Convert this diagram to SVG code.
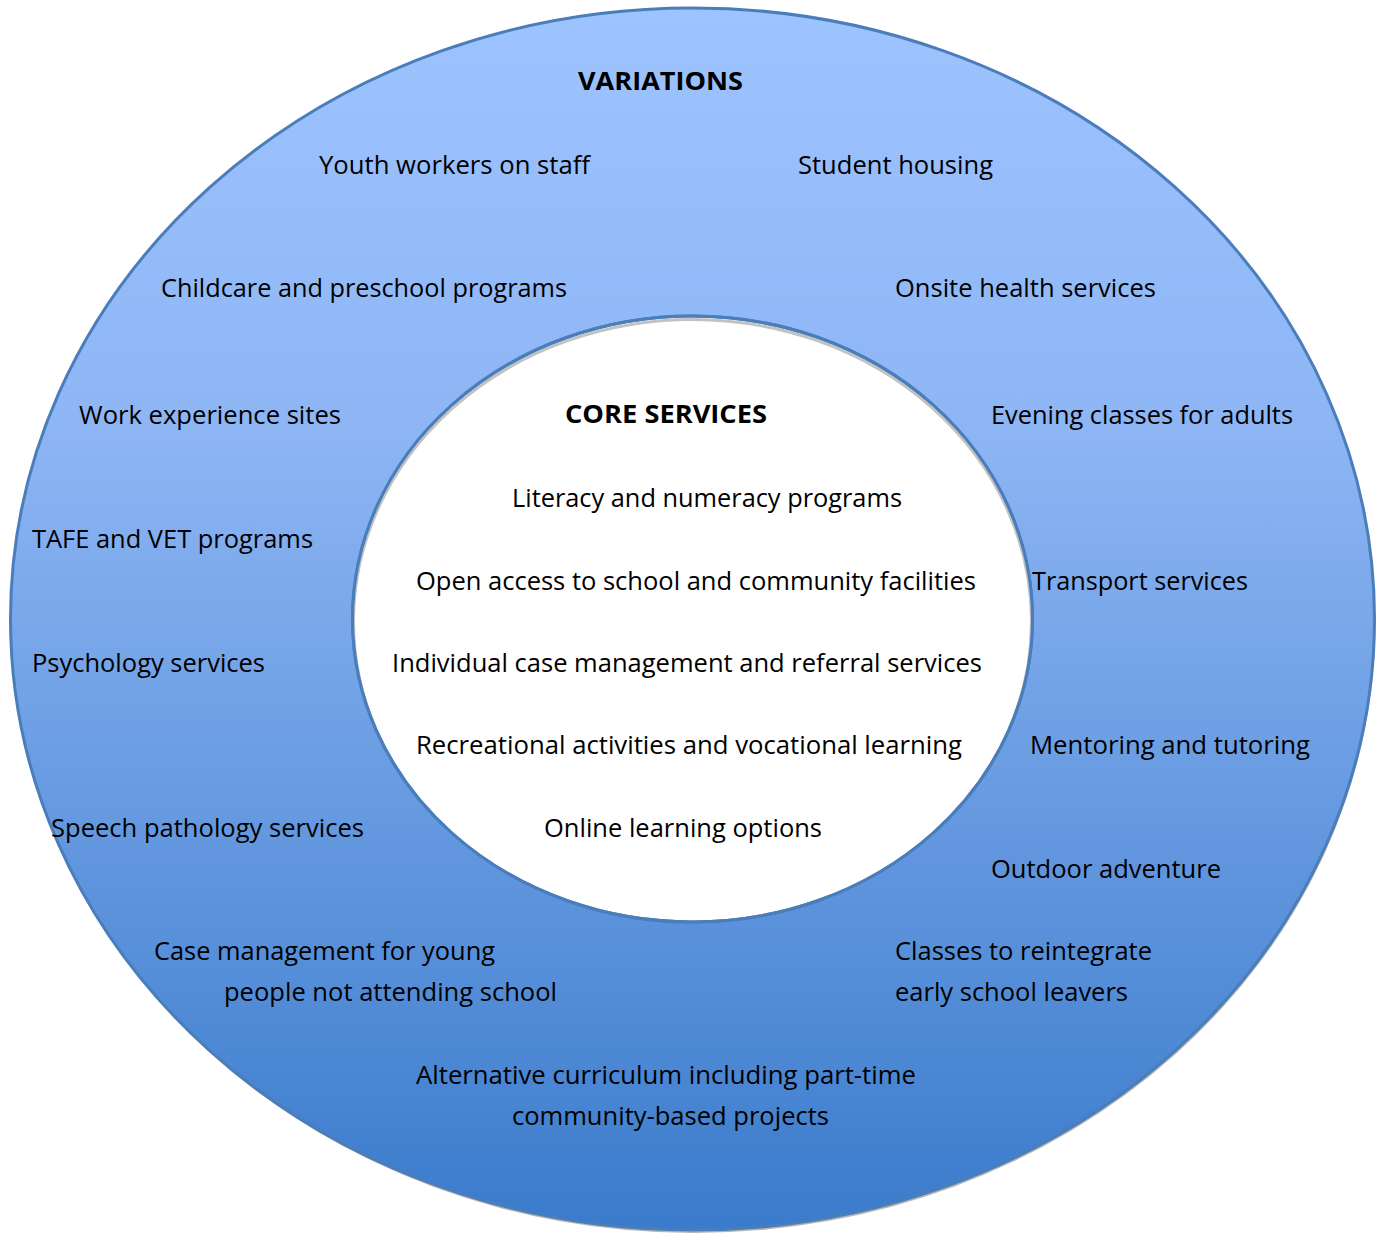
<svg xmlns="http://www.w3.org/2000/svg" width="1382" height="1233" viewBox="0 0 1382 1233">
<defs>
<linearGradient id="blue" x1="0" y1="0" x2="0" y2="1">
<stop offset="0" stop-color="#9EC4FF"/>
<stop offset="0.35" stop-color="#8DB5F4"/>
<stop offset="1" stop-color="#3A7BCB"/>
</linearGradient>
<clipPath id="innerClip"><ellipse cx="692.5" cy="619" rx="339" ry="302"/></clipPath>
</defs>
<style>
text{font-family:"Open Sans","DejaVu Sans",sans-serif;font-size:25px;fill:#000;}
.b{font-weight:bold;}
.ring{stroke:#4A7EBB;stroke-width:3;}
</style>
<rect width="1382" height="1233" fill="#fff"/>
<g id="outer">
<ellipse cx="693.5" cy="622" rx="682" ry="611" fill="#b5b5b5"/>
<ellipse class="ring" cx="692.5" cy="619" rx="682" ry="611" fill="url(#blue)"/>
</g>
<g id="inner">
<ellipse class="ring" cx="692.5" cy="619" rx="340" ry="303" fill="#fff"/>
<ellipse cx="692.5" cy="621.5" rx="339" ry="302" fill="none" stroke="#c2c2c2" stroke-width="3" clip-path="url(#innerClip)"/>
<ellipse cx="692.5" cy="619" rx="340" ry="303" fill="none" class="ring"/>
</g>
<g id="connectors"/>
<g id="variations">
<text class="b" x="578" y="90" textLength="165" lengthAdjust="spacingAndGlyphs">VARIATIONS</text>
<text x="319" y="174" textLength="271" lengthAdjust="spacingAndGlyphs">Youth workers on staff</text>
<text x="798" y="174" textLength="195" lengthAdjust="spacingAndGlyphs">Student housing</text>
<text x="161" y="297" textLength="406" lengthAdjust="spacingAndGlyphs">Childcare and preschool programs</text>
<text x="895" y="297" textLength="261" lengthAdjust="spacingAndGlyphs">Onsite health services</text>
<text x="79" y="424" textLength="262" lengthAdjust="spacingAndGlyphs">Work experience sites</text>
<text x="991" y="424" textLength="302" lengthAdjust="spacingAndGlyphs">Evening classes for adults</text>
<text x="32" y="548" textLength="281" lengthAdjust="spacingAndGlyphs">TAFE and VET programs</text>
<text x="1032" y="590" textLength="216" lengthAdjust="spacingAndGlyphs">Transport services</text>
<text x="32" y="672" textLength="233" lengthAdjust="spacingAndGlyphs">Psychology services</text>
<text x="1030" y="754" textLength="280" lengthAdjust="spacingAndGlyphs">Mentoring and tutoring</text>
<text x="51" y="837" textLength="313" lengthAdjust="spacingAndGlyphs">Speech pathology services</text>
<text x="991" y="878" textLength="230" lengthAdjust="spacingAndGlyphs">Outdoor adventure</text>
<text x="154" y="960" textLength="341" lengthAdjust="spacingAndGlyphs">Case management for young</text>
<text x="224" y="1001" textLength="333" lengthAdjust="spacingAndGlyphs">people not attending school</text>
<text x="895" y="960" textLength="257" lengthAdjust="spacingAndGlyphs">Classes to reintegrate</text>
<text x="895" y="1001" textLength="233" lengthAdjust="spacingAndGlyphs">early school leavers</text>
<text x="416" y="1084" textLength="500" lengthAdjust="spacingAndGlyphs">Alternative curriculum including part-time</text>
<text x="512" y="1125" textLength="317" lengthAdjust="spacingAndGlyphs">community-based projects</text>
</g>
<g id="core">
<text class="b" x="565" y="423" textLength="202" lengthAdjust="spacingAndGlyphs">CORE SERVICES</text>
<text x="512" y="507" textLength="390" lengthAdjust="spacingAndGlyphs">Literacy and numeracy programs</text>
<text x="416" y="590" textLength="560" lengthAdjust="spacingAndGlyphs">Open access to school and community facilities</text>
<text x="392" y="672" textLength="590" lengthAdjust="spacingAndGlyphs">Individual case management and referral services</text>
<text x="416" y="754" textLength="546" lengthAdjust="spacingAndGlyphs">Recreational activities and vocational learning</text>
<text x="544" y="837" textLength="278" lengthAdjust="spacingAndGlyphs">Online learning options</text>
</g>
</svg>
